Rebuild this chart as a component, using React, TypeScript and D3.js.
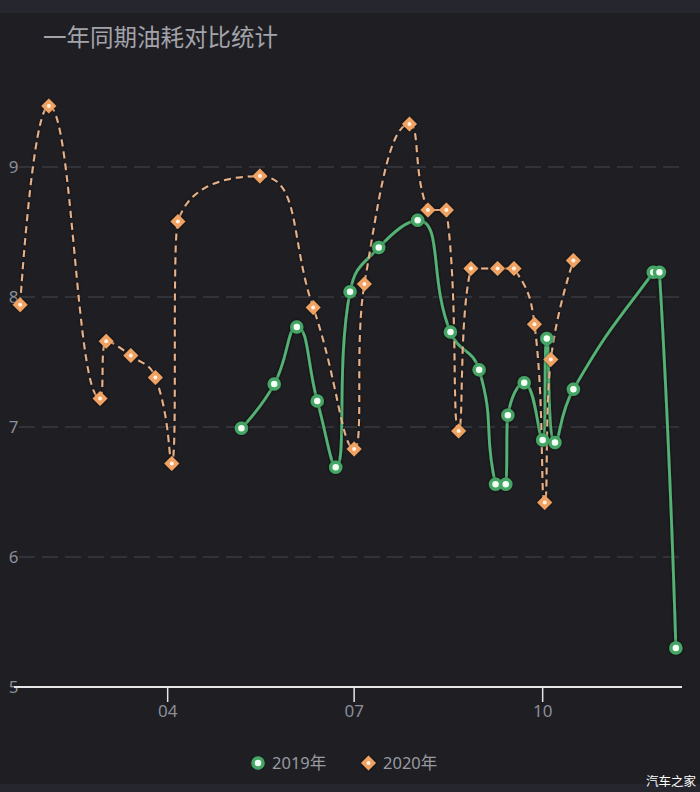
import React, { useEffect } from "react";
import * as d3 from "d3";

const TITLE = "一年同期油耗对比统计";
const SERIES_NAMES = ["2019年", "2020年"];
const WATERMARK = "汽车之家";

const dates2019 = ["05-07", "05-23", "06-03", "06-13", "06-22", "06-29", "07-13", "08-01", "08-17", "08-31", "09-08", "09-13", "09-14", "09-22", "10-01", "10-03", "10-07", "10-16", "11-24", "11-27", "12-05"];
const values2019 = [6.99, 7.33, 7.77, 7.2, 6.69, 8.04, 8.38, 8.59, 7.73, 7.44, 6.56, 6.56, 7.09, 7.34, 6.9, 7.68, 6.88, 7.29, 8.19, 8.19, 5.3];

const dates2020 = ["01-20", "02-03", "02-28", "03-02", "03-14", "03-26", "04-03", "04-06", "05-16", "06-11", "07-01", "07-06", "07-28", "08-06", "08-15", "08-21", "08-27", "09-09", "09-17", "09-27", "10-02", "10-05", "10-16"];
const values2020 = [7.94, 9.47, 7.22, 7.66, 7.55, 7.38, 6.72, 8.58, 8.93, 7.92, 6.83, 8.1, 9.33, 8.67, 8.67, 6.97, 8.22, 8.22, 8.22, 7.79, 6.42, 7.52, 8.28];

const xDomain = ["01-17", "12-08"];
const xTicks = ["04-01", "07-01", "10-01"];
const yTicks = [5, 6, 7, 8, 9];
const yDomain = [5, 10];

const W = 700;
const H = 792;

const parse = (s: string) => {
  const [m, d] = s.split("-").map(Number);
  return new Date(2020, m - 1, d);
};

// Smoothed polyline (ECharts-like) with no overshoot, as a d3 curve factory
function curveSmooth(context: any) {
  let pts: [number, number][] = [];
  const smooth = 0.5;
  const fit = (cx: number, cy: number, dx: number, dy: number) => {
    let s = 1;
    if (cx !== 0) s = Math.min(s, cx * dx > 0 ? Math.abs(dx) / Math.abs(cx) : 0);
    if (cy !== 0) s = Math.min(s, cy * dy > 0 ? Math.abs(dy) / Math.abs(cy) : 0);
    return s;
  };
  return {
    areaStart() {},
    areaEnd() {},
    lineStart() {
      pts = [];
    },
    point(x: number, y: number) {
      pts.push([+x, +y]);
    },
    lineEnd() {
      const n = pts.length;
      if (!n) return;
      context.moveTo(pts[0][0], pts[0][1]);
      if (n === 1) return;
      const fwd: [number, number][] = [];
      const back: [number, number][] = [];
      fwd[0] = pts[0];
      back[n - 1] = pts[n - 1];
      for (let i = 1; i < n - 1; i++) {
        const [px, py] = pts[i - 1];
        const [x, y] = pts[i];
        const [nx, ny] = pts[i + 1];
        const vx = nx - px;
        let vy = ny - py;
        if ((y - py) * (ny - y) < 0) vy = 0;
        const lp = Math.hypot(x - px, y - py);
        const ln = Math.hypot(nx - x, ny - y);
        const sum = lp + ln || 1;
        const a = (smooth * ln) / sum;
        const b = (smooth * lp) / sum;
        const fx = vx * a, fy = vy * a;
        const sf = fit(fx, fy, nx - x, ny - y);
        const bx = -vx * b, by = -vy * b;
        const sb = fit(bx, by, px - x, py - y);
        fwd[i] = [x + fx * sf, y + fy * sf];
        back[i] = [x + bx * sb, y + by * sb];
      }
      for (let i = 1; i < n; i++) {
        context.bezierCurveTo(fwd[i - 1][0], fwd[i - 1][1], back[i][0], back[i][1], pts[i][0], pts[i][1]);
      }
    },
  };
}

export default function App() {
  useEffect(() => {
    document.body.style.margin = "0";
    document.body.style.background = "#1e1e23";
  }, []);

  const x = d3.scaleTime().domain(xDomain.map(parse)).range([14, 682]);
  const y = d3.scaleLinear().domain(yDomain).range([687, 37]);
  const fmt = d3.timeFormat("%m");

  const s2019: [Date, number][] = dates2019.map((d, i) => [parse(d), values2019[i]]);
  const s2020: [Date, number][] = dates2020.map((d, i) => [parse(d), values2020[i]]);

  const line = d3
    .line<[Date, number]>()
    .x((d) => x(d[0]))
    .y((d) => y(d[1]))
    .curve(curveSmooth as any);

  const diamond = (cx: number, cy: number, r: number) =>
    `M${cx},${cy - r}L${cx + r},${cy}L${cx},${cy + r}L${cx - r},${cy}Z`;

  const green = "#55b274";
  const greenRing = "#45a565";
  const orangeLine = "#e8b188";
  const orange = "#f0a264";
  const labelColor = "#8d8e96";
  const axisBase = y(5);

  return (
    <svg width={W} height={H} style={{ display: "block" }} fontFamily="'Noto Sans', 'Noto Sans CJK SC', sans-serif">
      <defs>
        <filter id="shadow" x="-20%" y="-20%" width="140%" height="140%">
          <feDropShadow dx="0" dy="0" stdDeviation="1.8" floodColor="#000" floodOpacity="0.7" />
        </filter>
      </defs>
      <rect x={0} y={0} width={W} height={H} fill="#1e1e23" />
      <rect x={0} y={0} width={W} height={13} fill="#26262f" />
      <rect x={0} y={784} width={W} height={8} fill="#26262e" />

      <text x={43} y={45.5} fontSize={23.5} fill="#a3a3aa" fontFamily="'Noto Sans CJK SC', sans-serif">
        {TITLE}
      </text>

      {/* grid lines */}
      {yTicks
        .filter((t) => t !== 5)
        .map((t) => (
          <line key={t} x1={19} x2={680} y1={y(t)} y2={y(t)} stroke="#3a3b42" strokeWidth={1.5} strokeDasharray="16,7" />
        ))}

      {/* y labels */}
      {yTicks.map((t) => (
        <text key={t} x={18.5} y={y(t)} dy="0.36em" textAnchor="end" fontSize={17} fill={labelColor}>
          {t}
        </text>
      ))}

      {/* x axis */}
      <line x1={14} x2={682} y1={axisBase} y2={axisBase} stroke="#e6e6e6" strokeWidth={2} />
      {xTicks.map((t) => {
        const px = x(parse(t));
        return (
          <g key={t}>
            <line x1={px} x2={px} y1={axisBase} y2={axisBase + 15} stroke="#e6e6e6" strokeWidth={1.5} />
            <text x={px} y={717} textAnchor="middle" fontSize={17} fill={labelColor}>
              {fmt(parse(t))}
            </text>
          </g>
        );
      })}

      {/* 2019 series */}
      <path d={line(s2019) || ""} fill="none" stroke={green} strokeWidth={2.8} filter="url(#shadow)" />
      {/* 2020 series */}
      <path d={line(s2020) || ""} fill="none" stroke={orangeLine} strokeWidth={2} strokeDasharray="7,5" filter="url(#shadow)" />

      <g filter="url(#shadow)">
        {s2019.map((d, i) => (
          <circle key={i} cx={x(d[0])} cy={y(d[1])} r={5} fill="#f4fff6" stroke={greenRing} strokeWidth={3.5} />
        ))}
      </g>
      <g filter="url(#shadow)">
        {s2020.map((d, i) => (
          <g key={i}>
            <path d={diamond(x(d[0]), y(d[1]), 7.5)} fill={orange} />
            <circle cx={x(d[0])} cy={y(d[1])} r={2} fill="#fff3e6" />
          </g>
        ))}
      </g>

      {/* legend */}
      <g>
        <circle cx={258} cy={763} r={5} fill="#f4fff6" stroke={greenRing} strokeWidth={3.5} filter="url(#shadow)" />
        <text x={272} y={769} fontSize={16.5} fill="#9a9aa1">
          {SERIES_NAMES[0]}
        </text>
        <path d={diamond(368.5, 763, 7.5)} fill={orange} filter="url(#shadow)" />
        <circle cx={368.5} cy={763} r={2} fill="#fff3e6" />
        <text x={383} y={769} fontSize={16.5} fill="#9a9aa1">
          {SERIES_NAMES[1]}
        </text>
      </g>

      <text x={646} y={786} fontSize={12.5} fill="#ffffff" fontFamily="'Noto Sans CJK SC', sans-serif">
        {WATERMARK}
      </text>
    </svg>
  );
}
